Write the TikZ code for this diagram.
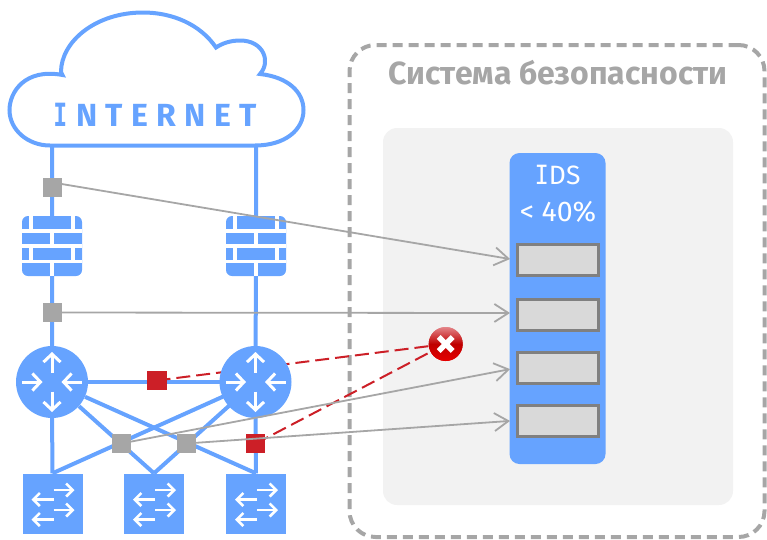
\documentclass[tikz,border=0pt]{standalone}
\usepackage{fontspec}
\setmainfont{Fira Sans}
\newfontfamily\monof{DejaVu Sans Mono}
\newfontfamily\spaced[LetterSpace=26]{Fira Sans}
\usetikzlibrary{arrows.meta}
\definecolor{netblue}{HTML}{66A3FF}
\definecolor{tapgray}{HTML}{A6A6A6}
\definecolor{slotgray}{HTML}{808080}
\definecolor{slotfill}{HTML}{D9D9D9}
\definecolor{panelgray}{HTML}{F2F2F2}
\definecolor{alertred}{HTML}{CC1F27}
\pgfdeclarelayer{under}
\pgfsetlayers{under,main}
\tikzset{
  x=1pt,y=-1pt,
  link/.style={draw=netblue,line width=4pt},
  tap/.style={draw=tapgray,line width=1.8pt,-{Straight Barb[length=14pt,width=18pt,line width=1.8pt]},shorten >=6pt},
  alertline/.style={draw=alertred,line width=2pt,dash pattern=on 14pt off 6pt},
  tapbox/.style={fill=tapgray,minimum width=19pt,minimum height=19pt,inner sep=0pt},
  redbox/.style={fill=alertred,minimum width=20pt,minimum height=19pt,inner sep=0pt},
  fwbox/.style={fill=netblue,rounded corners=6pt,minimum width=60pt,minimum height=60pt,inner sep=0pt},
  swbox/.style={fill=netblue,minimum width=60pt,minimum height=60pt,inner sep=0pt},
  routerdisc/.style={circle,fill=netblue,minimum size=72pt,inner sep=0pt},
  badge/.style={circle,minimum size=34pt,inner sep=0pt,top color=alertred!55!white,bottom color=red!90!black,middle color=red!75!black},
  slotbox/.style={fill=slotfill,draw=slotgray,line width=3pt,minimum width=81pt,minimum height=31pt,inner sep=0pt},
  whitearrow/.style={draw=white,line width=3pt,-{Straight Barb[length=8pt,width=17pt,line width=3pt]}},
  smallarrow/.style={draw=white,line width=2.6pt,-{Straight Barb[length=6.5pt,width=13pt,line width=2.6pt]}},
  bricks/.pic={
    \draw[white,line width=3.6pt] (-30,-15.3)--(30,-15.3) (-30,0)--(30,0) (-30,15.3)--(30,15.3);
    \draw[white,line width=3.6pt] (-21.3,-30)--(-21.3,-15.3) (20.7,-30)--(20.7,-15.3)
      (0,-15.3)--(0,0) (-21.3,0)--(-21.3,15.3) (20.7,0)--(20.7,15.3) (0,15.3)--(0,30);
  },
  routerarrows/.pic={
    \draw[whitearrow] (0,-9.5)--(0,-30);
    \draw[whitearrow] (0,9.5)--(0,30);
    \draw[whitearrow] (-30,0)--(-9.5,0);
    \draw[whitearrow] (30,0)--(9.5,0);
  },
  switcharrows/.pic={
    \draw[smallarrow] (1,-13.5)--(22,-13.5);
    \draw[smallarrow] (1,-4)--(-21,-4);
    \draw[smallarrow] (1,6.5)--(22,6.5);
    \draw[smallarrow] (1,16)--(-21,16);
  }
}
\begin{document}
\begin{tikzpicture}
\useasboundingbox (0,0) rectangle (767,539);
% security zone
\node[draw=tapgray,line width=4pt,dash pattern=on 10pt off 6pt,rounded corners=26pt,minimum width=415pt,minimum height=492pt,inner sep=0pt] (zone) at (557,291) {};
\node[fill=panelgray,rounded corners=14pt,minimum width=350pt,minimum height=377pt,inner sep=0pt] (panel) at (558,316.5) {};
\node[text=tapgray,font=\bfseries\fontsize{32}{36}\selectfont,inner sep=0pt] (title) at (558,73) {Система безопасности};
% IDS
\node[fill=netblue,rounded corners=10pt,minimum width=96pt,minimum height=311pt,inner sep=0pt] (ids) at (557.5,308.5) {};
\node[text=white,font=\fontsize{26.5}{28}\selectfont,inner sep=0pt] (idst) at (557.5,175) {\scalebox{0.9}[1]{\monof I}DS};
\node[text=white,font=\fontsize{28.5}{32}\selectfont,inner sep=0pt] (pct) at (558,212) {< 40\%};
\node[slotbox] (s1) at (558,260) {};
\node[slotbox] (s2) at (558,315) {};
\node[slotbox] (s3) at (558,368) {};
\node[slotbox] (s4) at (558,420.5) {};
% cloud
\path[draw=netblue,line width=4pt,fill=white,line join=miter] (62.5,75)
  .. controls (25,68) and (9.5,92) .. (9.5,110)
  .. controls (9.5,130) and (28,145.5) .. (50,145.5)
  -- (255,145.5)
  .. controls (285,145.5) and (303.5,130) .. (303.5,110)
  .. controls (303.5,92) and (288,77) .. (260,74)
  .. controls (271,62) and (264,40.5) .. (240,40.5)
  .. controls (230,40.5) and (222,43.5) .. (216,47.5)
  .. controls (200,24) and (172,12.5) .. (143,12.5)
  .. controls (95,12.5) and (61,42) .. (61,72)
  -- (62.5,75) -- cycle;
\coordinate (cl) at (52,145);
\coordinate (cr) at (256,145);
\node[text=netblue,inner sep=0pt] (inet) at (155,114.5) {\spaced\bfseries\fontsize{32}{34}\selectfont\scalebox{0.72}[1]{\monof\bfseries I}\hspace{9pt}NTERNET};
% equipment
\node[fwbox] (fw1) at (52,246) {};
\node[fwbox] (fw2) at (256,246) {};
\pic at (fw1) {bricks};
\pic at (fw2) {bricks};
\node[routerdisc] (r1) at (52,382) {};
\pic at (r1) {routerarrows};
\node[swbox] (sw1) at (52.5,503.5) {};
\node[swbox] (sw2) at (154,503.5) {};
\node[swbox] (sw3) at (256,503.5) {};
\pic at (sw1) {switcharrows};
\pic at (sw2) {switcharrows};
\pic at (sw3) {switcharrows};
\coordinate (r2c) at (255.5,382);
\coordinate (x1c) at (156.5,380.5);
\coordinate (x2c) at (255.7,443.5);
\node[badge] (err) at (445.7,344) {};
% connectors below equipment
\begin{pgfonlayer}{under}
\draw[link] (cl) -- (fw1) -- (r1) -- (sw1);
\draw[link] (cr) -- (fw2) -- (r2c) -- (sw3);
\draw[link] (r1) -- (r2c);
\draw[link] (r1) -- (sw2.north);
\draw[link] (r1) -- (sw3.north);
\draw[link] (r2c) -- (sw2.north);
\draw[link] (r2c) -- (sw1.north);
\end{pgfonlayer}
\draw[alertline] (x1c) -- (err);
\draw[alertline] (x2c) -- (err);
\node[routerdisc] (r2) at (r2c) {};
\pic at (r2) {routerarrows};
\node[redbox] (x1) at (x1c) {};
\node[redbox,minimum width=19pt] (x2) at (x2c) {};
\node[badge] (errtop) at (err) {};
\draw[white,line width=5.5pt] ([shift={(-7,-7)}]err.center) -- ([shift={(7,7)}]err.center);
\draw[white,line width=5.5pt] ([shift={(7,-7)}]err.center) -- ([shift={(-7,7)}]err.center);
\node[tapbox] (g3) at (121,443.5) {};
\node[tapbox] (g4) at (186,443.5) {};
\node[tapbox] (g1) at (52,187) {};
\node[tapbox] (g2) at (52,312.5) {};
% monitoring taps
\draw[tap] ([yshift=3pt]g1.east) -- (s1.west);
\draw[tap] (g2) -- ([yshift=2pt]s2.west);
\draw[tap] (g3) -- (s3.west);
\draw[tap] (g4) -- (s4.west);
\node[tapbox] at (g3) {};
\node[tapbox] at (g4) {};
\end{tikzpicture}
\end{document}
